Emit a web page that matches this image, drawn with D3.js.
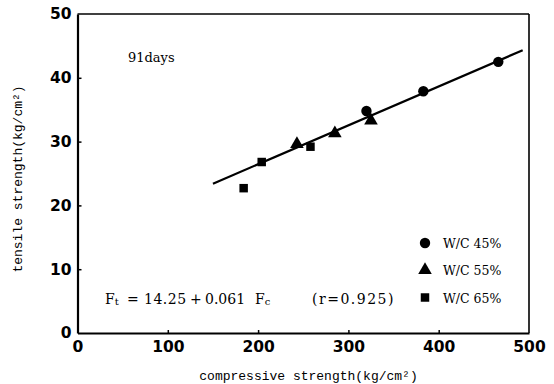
<!DOCTYPE html>
<html>
<head>
<meta charset="utf-8">
<script src="https://cdn.jsdelivr.net/npm/d3@7"></script>
<style>
  html, body { margin: 0; padding: 0; background: #fff; }
  svg { display: block; }
</style>
</head>
<body>
<svg id="chart" width="554" height="384"></svg>
<script>
// Tensile vs compressive strength at 91 days, by water/cement ratio
const wc45Fc = [320, 383, 466];
const wc45Ft = [34.8, 37.9, 42.5];
const wc55Fc = [243, 285, 325];
const wc55Ft = [29.6, 31.3, 33.3];
const wc65Fc = [184, 204, 258];
const wc65Ft = [22.7, 26.8, 29.2];

// Regression Ft = 14.25 + 0.061 Fc
const fitIntercept = 14.25;
const fitSlope = 0.061;
const fitRange = [150, 493];

const xTicks = [0, 100, 200, 300, 400, 500];
const yTicks = [0, 10, 20, 30, 40, 50];
const legendLabels = ["W/C 45%", "W/C 55%", "W/C 65%"];

const svg = d3.select("#chart");
const x = d3.scaleLinear().domain([0, 500]).range([77.5, 529]);
const y = d3.scaleLinear().domain([0, 50]).range([333, 14]);

const tickFont = "'DejaVu Sans', sans-serif";
const monoFont = "'Liberation Mono', 'DejaVu Sans Mono', monospace";
const serifFont = "'DejaVu Serif', 'Liberation Serif', serif";

// frame (top and right)
svg.append("line").attr("x1", x(0)).attr("x2", x(500)).attr("y1", y(50)).attr("y2", y(50))
  .attr("stroke", "#000").attr("stroke-width", 1.6);
svg.append("line").attr("x1", x(500)).attr("x2", x(500)).attr("y1", y(50)).attr("y2", y(0))
  .attr("stroke", "#000").attr("stroke-width", 1.6);

// axes with inward ticks
const xAxis = svg.append("g").attr("transform", `translate(0,${y(0)})`)
  .call(d3.axisBottom(x).tickValues(xTicks).tickSizeInner(-3).tickSizeOuter(0).tickPadding(8));
const yAxis = svg.append("g").attr("transform", `translate(${x(0)},0)`)
  .call(d3.axisLeft(y).tickValues(yTicks).tickSizeInner(-4).tickSizeOuter(0).tickPadding(6));

[xAxis, yAxis].forEach(g => {
  g.select(".domain").attr("stroke", "#000").attr("stroke-width", 2.2);
  g.selectAll(".tick line").attr("stroke", "#000").attr("stroke-width", 1.5);
  g.selectAll(".tick text").attr("fill", "#000")
    .style("font-family", tickFont).style("font-size", "15.5px").style("font-weight", "bold");
});
yAxis.selectAll(".tick").filter(d => d === 0 || d === 50).select("line").remove();
xAxis.selectAll(".tick").filter(d => d === 0 || d === 500).select("line").remove();

// axis titles
svg.append("text").attr("x", 308.5).attr("y", 380).attr("text-anchor", "middle")
  .style("font-family", monoFont).style("font-size", "13px")
  .text("compressive strength(kg/cm²)");
svg.append("text").attr("transform", "translate(22,179) rotate(-90)").attr("text-anchor", "middle")
  .style("font-family", monoFont).style("font-size", "13px")
  .text("tensile strength(kg/cm²)");

// regression line
const fitLine = d3.line().x(d => x(d)).y(d => y(fitIntercept + fitSlope * d));
svg.append("path").datum(fitRange).attr("d", fitLine)
  .attr("fill", "none").attr("stroke", "#000").attr("stroke-width", 2.2);

// markers
const circleSym = d3.symbol().type(d3.symbolCircle).size(85);
const triSym = d3.symbol().type(d3.symbolTriangle).size(80);
const sqSym = d3.symbol().type(d3.symbolSquare).size(72);

function plotSeries(xs, ys, sym) {
  svg.append("g").selectAll("path").data(xs.map((v, i) => [v, ys[i]])).join("path")
    .attr("d", sym)
    .attr("transform", d => `translate(${x(d[0])},${y(d[1])})`)
    .attr("fill", "#000");
}
plotSeries(wc45Fc, wc45Ft, circleSym);
plotSeries(wc55Fc, wc55Ft, triSym);
plotSeries(wc65Fc, wc65Ft, sqSym);

// legend
const legendSyms = [circleSym, triSym, sqSym];
const legendY = [243, 270, 297.5];
legendLabels.forEach((lab, i) => {
  svg.append("path").attr("d", legendSyms[i]).attr("transform", `translate(425,${legendY[i]})`).attr("fill", "#000");
  svg.append("text").attr("x", 443).attr("y", legendY[i] + 5)
    .style("font-family", serifFont).style("font-size", "12.5px").text(lab);
});

// annotations
svg.append("text").attr("x", 128).attr("y", 62)
  .style("font-family", serifFont).style("font-size", "13px").text("91days");

const eq = svg.append("g").style("font-family", serifFont).style("font-size", "14px");
const eqY = 304;
const ft = eq.append("text").attr("x", 105).attr("y", eqY);
ft.append("tspan").text("F");
ft.append("tspan").attr("dy", 1).style("font-size", "10px").text("t");
eq.append("text").attr("x", 127).attr("y", eqY).text("=");
eq.append("text").attr("x", 144).attr("y", eqY).style("letter-spacing", "0.5px").text("14.25");
eq.append("text").attr("x", 190).attr("y", eqY).text("+");
eq.append("text").attr("x", 205).attr("y", eqY).text("0.061");
const fc = eq.append("text").attr("x", 255).attr("y", eqY);
fc.append("tspan").text("F");
fc.append("tspan").attr("dy", 1).style("font-size", "10px").text("c");
eq.append("text").attr("x", 312).attr("y", eqY).style("letter-spacing", "1.5px").text("(r=0.925)");
</script>
</body>
</html>
